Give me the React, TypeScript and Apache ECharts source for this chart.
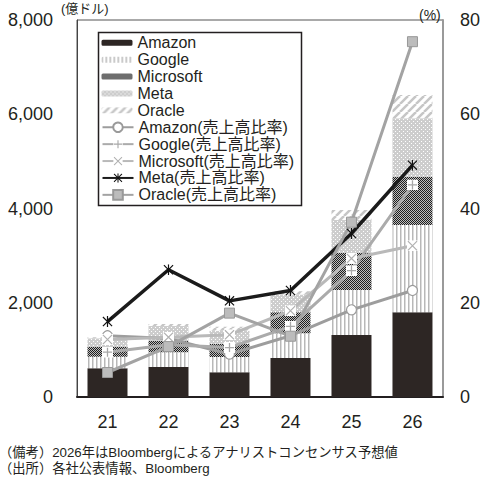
import React, { useEffect, useRef } from "react";
import * as echarts from "echarts";

const categories = ["21", "22", "23", "24", "25", "26"];
// 設備投資額（億ドル）
const amazonCapex = [610, 636, 527, 830, 1316, 1797];
const googleCapex = [246, 315, 323, 525, 955, 1853];
const microsoftCapex = [206, 239, 281, 445, 792, 1025];
const metaCapex = [186, 314, 273, 375, 693, 1239];
const oracleCapex = [18, 45, 87, 69, 212, 494];
// 売上高比率（%）
const amazonRatio = [13.0, 12.4, 9.1, 13.0, 18.5, 22.6];
const googleRatio = [9.5, 11.1, 10.5, 15.0, 26.8, 45.0];
const microsoftRatio = [12.2, 12.7, 13.2, 18.3, 29.4, 32.1];
const metaRatio = [16.0, 27.0, 20.4, 22.6, 34.7, 49.2];
const oracleRatio = [5.2, 10.7, 17.8, 12.9, 37.1, 75.4];

const leftTicks = { min: 0, max: 8000, interval: 2000 };
const rightTicks = { min: 0, max: 80, interval: 20 };

const footnotes = [
  "（備考）2026年はBloombergによるアナリストコンセンサス予想値",
  "（出所）各社公表情報、Bloomberg",
];

const FONT = "'Liberation Sans', 'Noto Sans CJK JP', sans-serif";
const TEXT = "#231f20";
const ITEM_H = 16.9;

function makePattern(w: number, h: number, draw: (c: CanvasRenderingContext2D) => void) {
  const cv = document.createElement("canvas");
  cv.width = w;
  cv.height = h;
  const ctx = cv.getContext("2d")!;
  draw(ctx);
  return { image: cv.toDataURL(), repeat: "repeat", imageWidth: w, imageHeight: h } as any;
}

function svgSymbol(svg: string) {
  return "image://data:image/svg+xml;base64," + btoa(svg);
}

export default function App() {
  const ref = useRef<HTMLDivElement>(null);
  useEffect(() => {
    if (!ref.current) return;
    const chart = echarts.init(ref.current, null, { renderer: "svg" });

    const googlePat = makePattern(4, 4, (c) => {
      c.fillStyle = "#fff";
      c.fillRect(0, 0, 4, 4);
      c.fillStyle = "#b8b8b8";
      c.fillRect(0, 0, 1, 4);
      c.fillStyle = "#dcdcdc";
      c.fillRect(1, 0, 1, 4);
    });
    const msPat = makePattern(2, 2, (c) => {
      c.fillStyle = "#bdbdbd";
      c.fillRect(0, 0, 2, 2);
      c.fillStyle = "#1e1e1e";
      c.fillRect(0, 0, 1, 1);
      c.fillRect(1, 1, 1, 1);
    });
    const metaPat = makePattern(4, 4, (c) => {
      c.fillStyle = "#cdcdcd";
      c.fillRect(0, 0, 4, 4);
      c.fillStyle = "#fff";
      c.fillRect(1, 1, 1, 1);
      c.fillRect(3, 3, 1, 1);
    });
    const oraclePat = makePattern(8, 8, (c) => {
      c.fillStyle = "#fff";
      c.fillRect(0, 0, 8, 8);
      c.strokeStyle = "#c6c6c6";
      c.lineWidth = 2.5;
      for (const k of [-8, 0, 8]) {
        c.beginPath();
        c.moveTo(k, 8);
        c.lineTo(k + 8, 0);
        c.stroke();
      }
    });

    const plusSym = svgSymbol(
      "<svg xmlns='http://www.w3.org/2000/svg' width='12' height='12'><rect width='12' height='12' fill='#ffffff'/><path d='M6,1V11M1,6H11' stroke='#a8a8a8' stroke-width='1.4'/></svg>"
    );
    const crossSym = svgSymbol(
      "<svg xmlns='http://www.w3.org/2000/svg' width='12' height='12'><rect width='12' height='12' fill='#ffffff'/><path d='M1,1L11,11M11,1L1,11' stroke='#b0b0b0' stroke-width='1.3'/></svg>"
    );
    const starSym = svgSymbol(
      "<svg xmlns='http://www.w3.org/2000/svg' width='12' height='12'><path d='M1,1L11,11M11,1L1,11M6,0V12' stroke='#111111' stroke-width='1.3'/></svg>"
    );

    const barBase = {
      type: "bar",
      stack: "capex",
      barWidth: 40,
      yAxisIndex: 0,
      xAxisIndex: 0,
    };
    const lineBase = {
      type: "line",
      yAxisIndex: 1,
      xAxisIndex: 0,
      symbolSize: 10,
    };
    const legendText = { fontSize: 16, lineHeight: ITEM_H, color: TEXT, fontFamily: FONT };

    chart.setOption({
      animation: false,
      textStyle: { fontFamily: FONT },
      grid: {
        left: 77,
        right: 38,
        top: 20,
        bottom: 82,
        show: true,
        borderColor: "#555",
        borderWidth: 1,
      },
      xAxis: {
        type: "category",
        data: categories,
        axisLine: { show: true, lineStyle: { color: TEXT, width: 2 } },
        axisTick: { show: false },
        axisLabel: { fontSize: 18, color: TEXT, margin: 16, fontFamily: FONT },
        splitLine: { show: false },
      },
      yAxis: [
        {
          type: "value",
          ...leftTicks,
          axisLine: { show: true, lineStyle: { color: "#444", width: 1 } },
          axisTick: { show: false },
          splitLine: { show: false },
          axisLabel: { fontSize: 18, color: TEXT, margin: 24, fontFamily: FONT },
        },
        {
          type: "value",
          position: "right",
          ...rightTicks,
          axisLine: { show: true, lineStyle: { color: "#9a9a9a", width: 2 } },
          axisTick: { show: false },
          splitLine: { show: false },
          axisLabel: { fontSize: 18, color: TEXT, margin: 17, fontFamily: FONT },
        },
      ],
      legend: [
        {
          data: ["Amazon", "Google", "Microsoft", "Meta", "Oracle"],
          orient: "vertical",
          left: 98,
          top: 32,
          padding: [2.3, 5, 0, 3.5],
          itemWidth: 31,
          itemHeight: 6,
          itemGap: 0,
          selectedMode: false,
          textStyle: legendText,
          z: 10,
        },
        {
          data: [
            "Amazon(売上高比率)",
            "Google(売上高比率)",
            "Microsoft(売上高比率)",
            "Meta(売上高比率)",
            "Oracle(売上高比率)",
          ],
          orient: "vertical",
          left: 98,
          top: 32 + 2.3 + 5 * ITEM_H,
          padding: [0, 5, 2, 3.5],
          itemWidth: 31,
          itemHeight: 12,
          itemGap: 0,
          selectedMode: false,
          textStyle: legendText,
          z: 10,
        },
      ],
      graphic: [
        {
          type: "rect",
          z: 5,
          shape: { x: 98.5, y: 32.5, width: 203, height: 173 },
          style: { fill: "#fff", stroke: TEXT, lineWidth: 1.5 },
        },
        {
          type: "text",
          x: 61,
          y: 8,
          style: { text: "(億ドル)", fontSize: 13, fill: TEXT, fontFamily: FONT, verticalAlign: "middle" },
        },
        {
          type: "text",
          x: 419,
          y: 15,
          style: { text: "(%)", fontSize: 14, fill: TEXT, fontFamily: FONT, verticalAlign: "middle" },
        },
        {
          type: "text",
          x: -1,
          y: 445,
          style: {
            text: footnotes.join("\n"),
            fontSize: 13.3,
            lineHeight: 15.6,
            fill: TEXT,
            fontFamily: FONT,
            verticalAlign: "top",
          },
        },
      ],
      series: [
        { ...barBase, name: "Amazon", data: amazonCapex, itemStyle: { color: "#2d2624" } },
        { ...barBase, name: "Google", data: googleCapex, itemStyle: { color: googlePat } },
        { ...barBase, name: "Microsoft", data: microsoftCapex, itemStyle: { color: msPat } },
        { ...barBase, name: "Meta", data: metaCapex, itemStyle: { color: metaPat } },
        { ...barBase, name: "Oracle", data: oracleCapex, itemStyle: { color: oraclePat } },
        {
          ...lineBase,
          name: "Amazon(売上高比率)",
          data: amazonRatio,
          symbol: "circle",
          symbolSize: 10,
          lineStyle: { color: "#9d9d9d", width: 3 },
          itemStyle: { color: "#fff", borderColor: "#9a9a9a", borderWidth: 1.2 },
        },
        {
          ...lineBase,
          name: "Google(売上高比率)",
          data: googleRatio,
          symbol: plusSym,
          symbolSize: 11,
          lineStyle: { color: "#ababab", width: 3 },
          itemStyle: { color: "#ababab" },
        },
        {
          ...lineBase,
          name: "Microsoft(売上高比率)",
          data: microsoftRatio,
          symbol: crossSym,
          symbolSize: 11,
          lineStyle: { color: "#b9b9b9", width: 3 },
          itemStyle: { color: "#b9b9b9" },
        },
        {
          ...lineBase,
          name: "Meta(売上高比率)",
          data: metaRatio,
          symbol: starSym,
          symbolSize: 11,
          lineStyle: { color: "#1b1b1b", width: 3.5 },
          itemStyle: { color: "#1b1b1b" },
        },
        {
          ...lineBase,
          name: "Oracle(売上高比率)",
          data: oracleRatio,
          symbol: "rect",
          symbolSize: 10,
          lineStyle: { color: "#a3a3a3", width: 3 },
          itemStyle: { color: "#bcbcbc", borderColor: "#999", borderWidth: 1 },
        },
      ],
    });
    return () => chart.dispose();
  }, []);
  return (
    <div
      ref={ref}
      style={{ position: "fixed", left: 0, top: 0, width: 483, height: 479, background: "#fff" }}
    />
  );
}
